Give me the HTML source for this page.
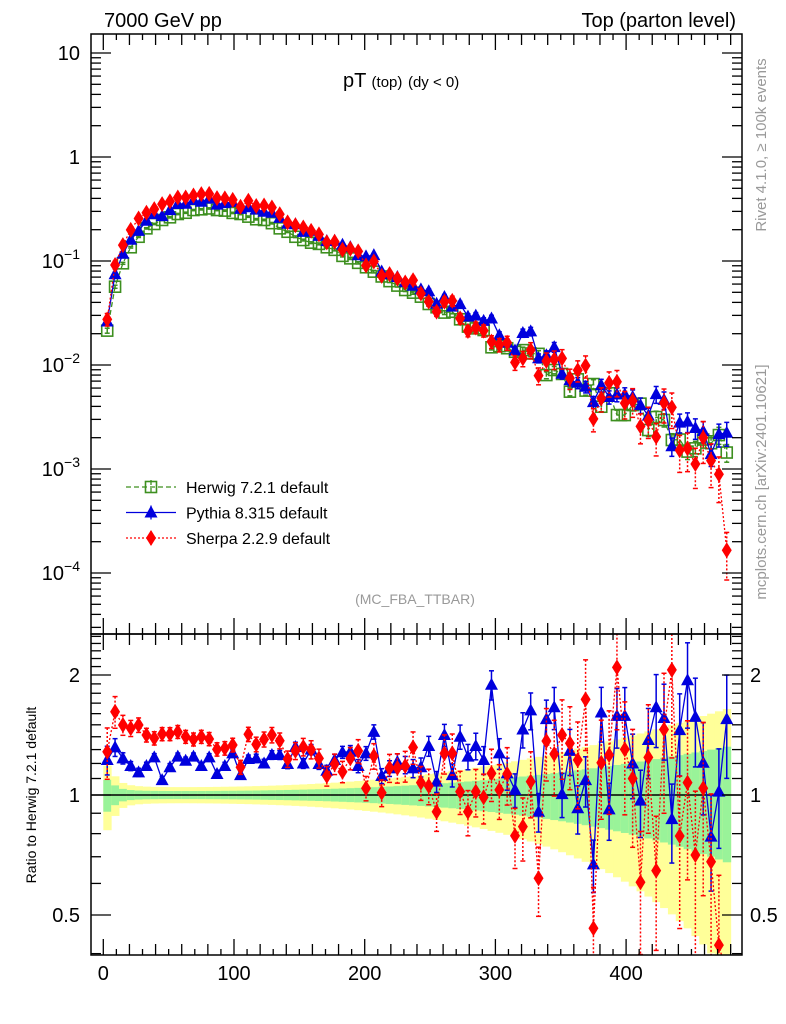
<!DOCTYPE html>
<html><head><meta charset="utf-8"><style>
html,body{margin:0;padding:0;background:#fff;width:786px;height:1024px;overflow:hidden}
svg{display:block;font-family:"Liberation Sans",Arial,sans-serif;overflow:hidden}
</style></head><body>
<svg id="chart" width="786" height="1024" viewBox="0 0 786 1024" xmlns="http://www.w3.org/2000/svg">
<defs>
<clipPath id="cm"><rect x="91" y="34" width="651" height="600"/></clipPath>
<clipPath id="cr"><rect x="91" y="634" width="651" height="321"/></clipPath>
</defs>
<text x="104" y="27" font-size="20">7000 GeV pp</text>
<text x="736" y="27" font-size="20" text-anchor="end">Top (parton level)</text>
<text x="343" y="87" font-size="20">pT <tspan font-size="15">(top)</tspan> <tspan font-size="15">(dy &lt; 0)</tspan></text>
<text x="415" y="604" font-size="14" fill="#999" text-anchor="middle">(MC_FBA_TTBAR)</text>
<text transform="translate(766,145) rotate(-90)" font-size="15" fill="#999" text-anchor="middle">Rivet 4.1.0, ≥ 100k events</text>
<text transform="translate(766,482) rotate(-90)" font-size="15" fill="#999" text-anchor="middle">mcplots.cern.ch [arXiv:2401.10621]</text>
<text transform="translate(36,795) rotate(-90)" font-size="14" text-anchor="middle">Ratio to Herwig 7.2.1 default</text>
<g id="bands" clip-path="url(#cr)"></g>
<g id="ratioMarks" clip-path="url(#cr)"></g>
<g id="mainMarks" clip-path="url(#cm)"></g>
<g id="axes"></g>
<g id="legend"></g>
</svg>
<script>
// ---- data ----
const binLow = 0, binWidth = 6;
const herwig = [0.0214,0.0566,0.095,0.1355,0.171,0.206,0.227,0.248,0.263,0.283,0.291,0.309,0.314,0.32,0.309,0.305,0.29,0.283,0.267,0.252,
0.248,0.231,0.206,0.191,0.171,0.159,0.150,0.146,0.1355,0.128,0.112,0.106,0.096,0.087,0.079,0.071,0.064,0.058,0.0526,0.0496,
0.0454,0.0386,0.0359,0.0319,0.0325,0.0275,0.0234,0.0225,0.0217,0.0148,0.0152,0.0145,0.0134,0.0139,0.0129,0.0128,0.0080,0.00895,0.0082,0.00554,
0.00728,0.00567,0.00656,0.00397,0.00535,0.0033,0.0033,0.00412,0.00425,0.00237,0.00316,0.00296,0.0019,0.00192,0.00147,0.00158,0.00192,0.00177,0.00212,0.00144];
const pythiaRatio = [1.224,1.317,1.236,1.182,1.140,1.182,1.243,1.090,1.174,1.248,1.219,1.248,1.182,1.243,1.129,1.182,1.272,1.122,1.231,1.236,
1.20,1.26,1.26,1.196,1.32,1.20,1.30,1.196,1.15,1.224,1.28,1.284,1.182,1.272,1.44,1.116,1.166,1.21,1.19,1.166,
1.174,1.327,1.08,1.414,1.122,1.40,1.248,1.327,1.224,1.89,1.272,1.133,1.03,1.46,1.63,0.908,1.55,1.66,1.005,1.29,
0.926,1.09,0.67,1.61,0.92,1.58,1.58,1.20,0.968,1.374,1.66,1.56,0.87,1.455,1.94,1.57,1.205,0.786,1.02,1.55];
const sherpaRatio = [1.284,1.618,1.498,1.47,1.498,1.414,1.388,1.422,1.422,1.44,1.40,1.379,1.40,1.382,1.302,1.31,1.335,1.174,1.42,1.34,
1.379,1.414,1.368,1.231,1.29,1.32,1.30,1.236,1.116,1.196,1.144,1.236,1.29,1.04,1.253,1.013,1.17,1.17,1.182,1.317,
1.074,1.053,0.908,1.272,1.272,1.02,0.908,1.02,0.987,1.133,1.03,1.129,0.79,0.833,1.08,0.618,1.366,1.267,1.414,1.348,
1.224,1.738,0.463,1.205,1.26,2.09,1.302,1.10,0.604,1.243,0.646,1.46,2.06,0.789,1.074,0.707,1.04,0.68,0.42,0.115];
const mainTicks = [10,1,0.1,0.01,0.001,0.0001];
const mainTickLabels = ["10","1","10⁻¹","10⁻²","10⁻³","10⁻⁴"];
const ratioTicks = [2,1,0.5];
const ratioTickLabels = ["2","1","0.5"];
const xTicks = [0,100,200,300,400];
const xTickLabels = ["0","100","200","300","400"];

// ---- axes ----
const X0=91,X1=742,MT=34,MB=634,RB=955;
const xs = v => 103.3 + 1.307*v;
const clamp = (y,a,b) => Math.min(Math.max(y,a),b);
const ymRaw = v => 157 - 104*Math.log10(v);
const yrRaw = r => 795 - 398.6*Math.log10(r);
const ym = v => clamp(ymRaw(v), MT-20, MB+20);
const yr = r => clamp(yrRaw(r), MB-20, RB+20);
const NS="http://www.w3.org/2000/svg";
function mk(tag, attrs, parent){const e=document.createElementNS(NS,tag);for(const k in attrs)e.setAttribute(k,attrs[k]);parent.appendChild(e);return e;}
const axes=document.getElementById('axes');
const bands=document.getElementById('bands');
const rm=document.getElementById('ratioMarks');
const mm=document.getElementById('mainMarks');

function relErr(i){return 0.022+0.3*Math.pow(i/79,3)+0.07/(1+i*i);}

// bands
herwig.forEach((h,i)=>{
  const a=xs(binLow+i*binWidth), b=xs(binLow+(i+1)*binWidth), g=relErr(i);
  const yt=yr(1+2*g), yb=Math.min(yr(Math.max(1-2*g,0.05)),RB);
  const y=mk('rect',{x:a,y:yt,width:b-a+0.5,height:yb-yt,fill:'#ffff99'},bands);
  
  
  const gr=mk('rect',{x:a,y:yr(1+g),width:b-a+0.5,height:yr(1-g)-yr(1+g),fill:'#99f399'},bands);
  
  
});
const ln=mk('line',{x1:X0,x2:X1,y1:yr(1),y2:yr(1),stroke:'#000','stroke-width':1.5},bands);



const H='#3d8f1f', P='#0000dd', S='#ff0000';
function sq(g,x,y){mk('rect',{x:x-5.5,y:y-5.5,width:11,height:11,fill:'none',stroke:H,'stroke-width':1.6},g);}
function tri(g,x,y){mk('polygon',{points:`${x},${y-7} ${x-6.5},${y+5} ${x+6.5},${y+5}`,fill:P},g);}
function dia(g,x,y){mk('polygon',{points:`${x},${y-8} ${x+5},${y} ${x},${y+8} ${x-5},${y}`,fill:S},g);}

function series(parent, vals, yf, col, dash, marker, errScale, name){
  const g=mk('g',{},parent);
  
  
  let pts=[];
  vals.forEach((v,i)=>{
    const x=xs(binLow+(i+0.5)*binWidth), e=relErr(i)*errScale;
    const y=yf(v), yu=yf(v*(1+e)), yd=yf(Math.max(v*(1-e),v*0.05));
    pts.push(x+','+y);
    if(errScale>0){
      mk('line',{x1:x,x2:x,y1:yu,y2:yd,stroke:col,'stroke-width':1.5,'stroke-dasharray':dash},g);
      mk('line',{x1:x-2.5,x2:x+2.5,y1:yu,y2:yu,stroke:col,'stroke-width':1.5},g);
      mk('line',{x1:x-2.5,x2:x+2.5,y1:yd,y2:yd,stroke:col,'stroke-width':1.5},g);
    }
  });
  mk('polyline',{points:pts.join(' '),fill:'none',stroke:col,'stroke-width':1.3,'stroke-dasharray':dash},g);
  vals.forEach((v,i)=>marker(g,xs(binLow+(i+0.5)*binWidth),yf(v)));
}
const pythia = herwig.map((h,i)=>h*pythiaRatio[i]);
const sherpa = herwig.map((h,i)=>h*sherpaRatio[i]);
series(mm, herwig, ym, H, '5,3', sq, 0.6, 'herwig-series');
series(mm, pythia, ym, P, '', tri, 0.8, 'pythia-series');
series(mm, sherpa, ym, S, '2,2', dia, 1.5, 'sherpa-series');
series(rm, pythiaRatio, yr, P, '', tri, 0.9, 'pythia-ratio-series');
series(rm, sherpaRatio, yr, S, '2,2', dia, 1.6, 'sherpa-ratio-series');

// frames
[[MT,MB],[MB,RB]].forEach(([t,b],k)=>{
  const r=mk('rect',{x:X0,y:t,width:X1-X0,height:b-t,fill:'none',stroke:'#000','stroke-width':1.5},axes);
  
  
});
// x ticks
for(let v=0;v<=480;v+=10){
  const x=xs(v), L = v%100===0?16:(v%20===0?11:6);
  [[MT,1],[MB,-1],[MB,1],[RB,-1]].forEach(([y0,d])=>mk('line',{x1:x,x2:x,y1:y0,y2:y0+d*L,stroke:'#000','stroke-width':1.3},axes));
}
xTicks.forEach((v,i)=>{
  const t=mk('text',{x:xs(v),y:980,'font-size':20,'text-anchor':'middle'},axes);t.textContent=xTickLabels[i];
  
  
});
// main y ticks
for(let d=-5;d<=1;d++){
  for(let m=1;m<=9;m++){
    const v=m*Math.pow(10,d), y=ymRaw(v); if(y<MT||y>MB)continue;
    const L=m===1?20:10;
    mk('line',{x1:X0,x2:X0+L,y1:y,y2:y,stroke:'#000','stroke-width':1.3},axes);
    mk('line',{x1:X1,x2:X1-L,y1:y,y2:y,stroke:'#000','stroke-width':1.3},axes);
  }
}
mainTicks.forEach((v,i)=>{
  const lab=mainTickLabels[i];
  const t=mk('text',{x:80,y:ymRaw(v)+7,'font-size':20,'text-anchor':'end'},axes);
  if(lab.length>2){t.textContent='10';const s=mk('tspan',{dy:-9,'font-size':14},t);s.textContent=lab.slice(2).replace('⁻','−').replace(/[¹²³⁴]/,c=>({'¹':'1','²':'2','³':'3','⁴':'4'})[c]);}
  else t.textContent=lab;
  
  
});
// ratio ticks
for(let r=0.4;r<=2.55;r+=0.1){
  const y=yrRaw(r); if(y<MB||y>RB)continue;
  const major=Math.abs(r-1)<0.01||Math.abs(r-2)<0.01||Math.abs(r-0.5)<0.01;
  const L=major?20:10;
  mk('line',{x1:X0,x2:X0+L,y1:y,y2:y,stroke:'#000','stroke-width':1.3},axes);
  mk('line',{x1:X1,x2:X1-L,y1:y,y2:y,stroke:'#000','stroke-width':1.3},axes);
}
ratioTicks.forEach((v,i)=>{
  [[80,'end'],[750,'start']].forEach(([x,a])=>{
    const t=mk('text',{x:x,y:yrRaw(v)+7,'font-size':20,'text-anchor':a},axes);t.textContent=ratioTickLabels[i];
    
    
  });
});
// legend
const lg=document.getElementById('legend');
[['Herwig 7.2.1 default',H,'5,3',sq],['Pythia 8.315 default',P,'',tri],['Sherpa 2.2.9 default',S,'2,2',dia]].forEach((e,i)=>{
  const y=487+i*25.5;
  const g=mk('g',{},lg);
  
  
  mk('line',{x1:126,x2:176,y1:y,y2:y,stroke:e[1],'stroke-width':1.3,'stroke-dasharray':e[2]},g);
  mk('line',{x1:151,x2:151,y1:y-7,y2:y+7,stroke:e[1],'stroke-width':1.3,'stroke-dasharray':e[2]},g);
  e[3](g,151,y);
  const t=mk('text',{x:186,y:y+6,'font-size':16},g);t.textContent=e[0];
});
</script>
</body></html>
